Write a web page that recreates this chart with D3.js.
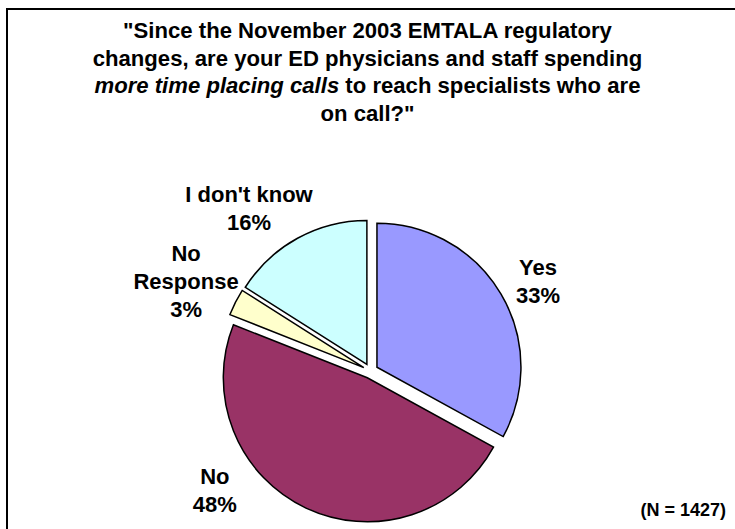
<!DOCTYPE html>
<html>
<head>
<meta charset="utf-8">
<script src="https://cdn.jsdelivr.net/npm/d3@7"></script>
<style>
  html, body { margin: 0; padding: 0; background: #fff; }
  svg { display: block; }
  text { font-family: "Liberation Sans", Arial, sans-serif; font-weight: bold; fill: #000; }
</style>
</head>
<body>
<svg id="chart" width="735" height="529"></svg>
<script>
// ---- data ----
const categories = ["Yes", "No", "No Response", "I don't know"];
const values = [33, 48, 3, 16];
const colors = ["#9999FF", "#993366", "#FFFFCC", "#CCFFFF"];
const labelLines = [["Yes"], ["No"], ["No", "Response"], ["I don't know"]];
const titleLines = [
  [{t: "\"Since the November 2003 EMTALA regulatory", i: false}],
  [{t: "changes, are your ED physicians and staff spending", i: false}],
  [{t: "more time placing calls", i: true}, {t: " to reach specialists who are", i: false}],
  [{t: "on call?\"", i: false}]
];
const footnote = "(N = 1427)";

// ---- layout ----
const W = 735, H = 529;
const cx = 370.5, cy = 371, R = 144, explode = 7.5;
const labelAngleDeg = [63.9, 230.8, 294.0, 322.0];
const labelDist = [186.5, 200.8, 201.9, 197.3];
const lineH = 28;
const fontPx = 22;
const titleLine1Width = 489;

const svg = d3.select("#chart");

// frame
svg.append("rect")
  .attr("x", 7).attr("y", 9).attr("width", 800).attr("height", 600)
  .attr("fill", "none").attr("stroke", "#000").attr("stroke-width", 2);

// title
const title = svg.append("text").attr("text-anchor", "middle").style("font-size", fontPx + "px");
titleLines.forEach((line, li) => {
  line.forEach((seg, si) => {
    const s = title.append("tspan").text(seg.t);
    if (si === 0) s.attr("x", 367.5).attr("y", 38 + li * 27.6);
    if (seg.i) s.style("font-style", "italic");
  });
});
// fit title width to reference
const firstLen = title.select("tspan").node().getComputedTextLength();
if (firstLen > 0) {
  const fs = fontPx * titleLine1Width / firstLen;
  title.style("font-size", fs.toFixed(2) + "px");
}

// pie
const pie = d3.pie().sort(null).value(d => d).startAngle(0).endAngle(2 * Math.PI);
const arcs = pie(values);
const arc = d3.arc().innerRadius(0).outerRadius(R);

const g = svg.append("g").attr("transform", `translate(${cx},${cy})`);
g.selectAll("path").data(arcs).enter().append("path")
  .attr("d", arc)
  .attr("fill", (d, i) => colors[i])
  .attr("stroke", "#000")
  .attr("stroke-width", 1.5)
  .attr("stroke-linejoin", "miter")
  .attr("transform", d => {
    const a = (d.startAngle + d.endAngle) / 2;
    return `translate(${explode * Math.sin(a)},${-explode * Math.cos(a)})`;
  });

// labels
const total = d3.sum(values);
arcs.forEach((d, i) => {
  const a = labelAngleDeg[i] * Math.PI / 180;
  const lx = cx + labelDist[i] * Math.sin(a);
  const ly = cy - labelDist[i] * Math.cos(a);
  const lines = labelLines[i].concat([Math.round(values[i] / total * 100) + "%"]);
  const n = lines.length;
  const t = svg.append("text").attr("text-anchor", "middle").style("font-size", fontPx + "px");
  lines.forEach((ln, k) => {
    t.append("tspan").attr("x", lx).attr("y", ly + (k - (n - 1) / 2) * lineH).text(ln);
  });
});

// footnote
svg.append("text").attr("x", 726).attr("y", 516).attr("text-anchor", "end")
  .style("font-size", "18px").text(footnote);
</script>
</body>
</html>
